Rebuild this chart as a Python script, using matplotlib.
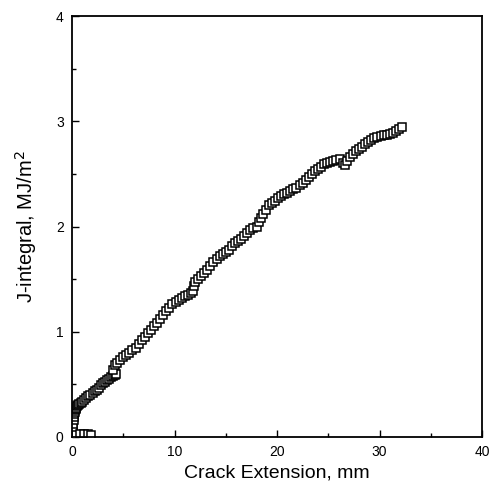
import matplotlib
matplotlib.use("Agg")
import matplotlib.pyplot as plt
from matplotlib.ticker import MultipleLocator

plt.rcParams['font.family'] = ['Liberation Sans', 'DejaVu Sans']

# Crack extension (mm) and J-integral (MJ/m^2)
crack_ext = [0.0, 0.05, 0.1, 0.1, 0.15, 0.2, 0.2, 0.25, 0.3, 0.35, 0.4, 0.5,
             0.6, 0.7, 0.85, 1.0, 1.2, 1.4, 1.6, 1.8, 2.0, 2.2, 2.4, 2.6,
             2.8, 3.0, 3.2, 3.4, 3.6, 3.8, 4.0, 4.2, 4.3, 4.0, 4.2, 4.4,
             4.7, 5.0, 5.3, 5.6, 5.9, 6.2, 6.5, 6.8, 7.1, 7.4, 7.7, 8.0,
             8.3, 8.6, 8.9, 9.2, 9.5, 9.8, 10.1, 10.4, 10.7, 11.0, 11.3, 11.6,
             11.8, 11.9, 12.0, 12.3, 12.6, 12.9, 13.2, 13.5, 13.8, 14.1, 14.4, 14.7,
             15.0, 15.3, 15.6, 15.9, 16.2, 16.5, 16.8, 17.1, 17.4, 17.7, 18.0, 18.2,
             18.4, 18.6, 18.9, 19.2, 19.5, 19.8, 20.1, 20.4, 20.7, 21.0, 21.3, 21.6,
             21.9, 22.2, 22.5, 22.8, 23.1, 23.4, 23.7, 24.0, 24.3, 24.6, 24.9, 25.2,
             25.5, 25.8, 26.1, 26.4, 26.6, 26.8, 27.1, 27.4, 27.7, 28.0, 28.3, 28.6,
             28.9, 29.2, 29.5, 29.8, 30.1, 30.4, 30.7, 31.0, 31.3, 31.6, 31.9, 32.2,
             0.4, 0.8, 1.2, 1.6, 1.9]
j_integral = [0.0, 0.04, 0.08, 0.12, 0.16, 0.19, 0.22, 0.24, 0.26, 0.27, 0.28, 0.29,
              0.30, 0.31, 0.32, 0.33, 0.35, 0.37, 0.39, 0.40, 0.42, 0.44, 0.45, 0.47,
              0.49, 0.51, 0.52, 0.54, 0.55, 0.57, 0.58, 0.59, 0.60, 0.64, 0.68, 0.70,
              0.73, 0.76, 0.78, 0.80, 0.83, 0.85, 0.88, 0.92, 0.95, 0.99, 1.02, 1.05,
              1.08, 1.12, 1.16, 1.20, 1.23, 1.26, 1.28, 1.30, 1.32, 1.34, 1.35, 1.37,
              1.39, 1.43, 1.47, 1.50, 1.53, 1.56, 1.59, 1.62, 1.66, 1.69, 1.72, 1.74,
              1.76, 1.78, 1.81, 1.84, 1.86, 1.88, 1.91, 1.94, 1.97, 1.99, 2.00, 2.04,
              2.08, 2.12, 2.16, 2.20, 2.22, 2.24, 2.27, 2.29, 2.31, 2.32, 2.34, 2.36,
              2.37, 2.39, 2.41, 2.44, 2.47, 2.50, 2.53, 2.55, 2.57, 2.59, 2.60, 2.61,
              2.62, 2.63, 2.64, 2.60, 2.58, 2.62, 2.66, 2.69, 2.72, 2.74, 2.76, 2.78,
              2.80, 2.82, 2.84, 2.85, 2.86, 2.87, 2.87, 2.88, 2.89, 2.91, 2.93, 2.95,
              0.02, 0.03, 0.03, 0.03, 0.02]

fig = plt.figure(figsize=(4.90, 4.93), dpi=100)
ax = fig.add_axes([72/490, 1-437/493, 410/490, 421/493])

ax.plot(crack_ext, j_integral, linestyle='none', marker='s', markersize=5.5,
        markerfacecolor='white', markeredgecolor='black', markeredgewidth=1.1)

ax.set_xlim(0, 40)
ax.set_ylim(0, 4)
ax.xaxis.set_major_locator(MultipleLocator(10))
ax.xaxis.set_minor_locator(MultipleLocator(5))
ax.yaxis.set_major_locator(MultipleLocator(1))
ax.yaxis.set_minor_locator(MultipleLocator(0.5))
ax.tick_params(which='both', direction='in', top=False, right=False,
               labelsize=10, width=1.0)
ax.tick_params(which='major', length=5, pad=6)
ax.tick_params(which='minor', length=3)
for s in ax.spines.values():
    s.set_linewidth(1.3)

ax.set_xlabel('Crack Extension, mm', fontsize=14, labelpad=4)
ax.set_ylabel('J-integral, MJ/m$^2$', fontsize=14.5, labelpad=12)

fig.savefig('out.png', dpi=100)
